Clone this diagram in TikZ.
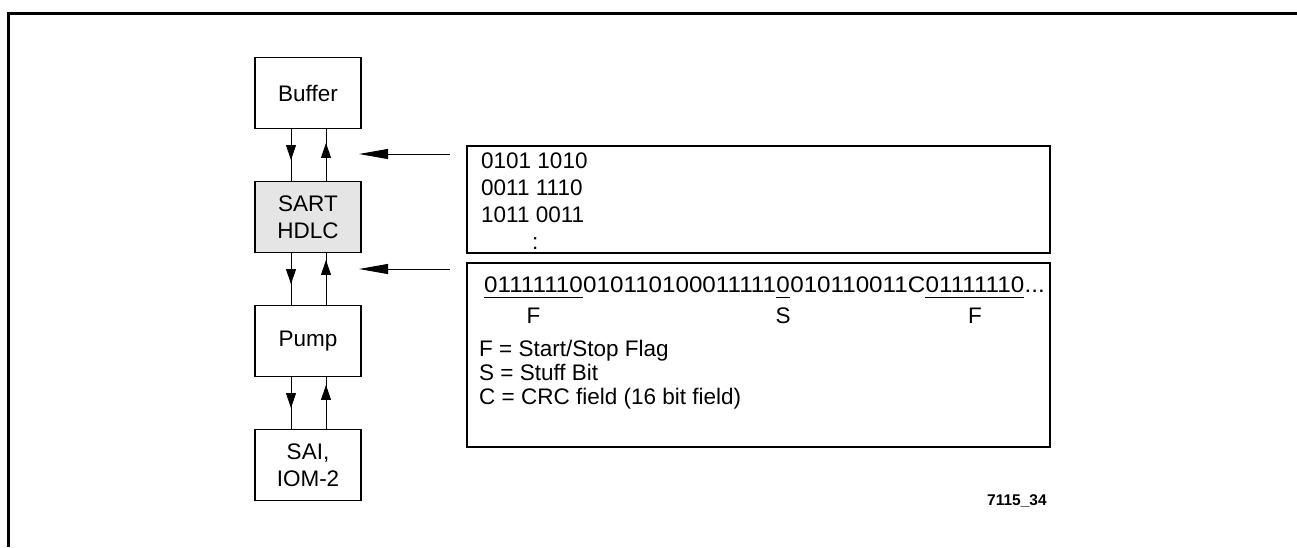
\documentclass[tikz,border=0pt]{standalone}
\usepackage{fontspec}
\usepackage{graphicx}
\setmainfont{Liberation Sans}
\usetikzlibrary{arrows.meta,decorations.markings}
\newcommand{\wideb}[1]{\scalebox{1.075}[1]{#1}}
\begin{document}
\begin{tikzpicture}[x=1pt,y=-1pt,
  every node/.style={font=\fontsize{22.5}{27}\selectfont},
  block/.style={draw=black,line width=1.1pt,minimum width=106pt,minimum height=71pt,inner sep=0pt,align=center},
  panel/.style={draw=black,line width=1.1pt,inner sep=0pt},
  bits/.style={inner sep=0pt,anchor=base west},
  conn/.style={line width=1pt},
  downmk/.style={postaction={decorate},decoration={markings,mark=at position #1 with {\arrow{Triangle[width=10pt,length=15pt]}}}},
  pointer/.style={line width=1pt,-{Triangle[width=10pt,length=29pt]}}
]
\useasboundingbox (0,0) rectangle (1297,547);
% frame
\draw[line width=3pt] (1297,13) -- (8,13) -- (8,547);

% blocks
\node[block] (buf) at (308,93) {Buffer};
\node[block,fill=black!10] (sart) at (308,217) {SART\\HDLC};
\node[block] (pump) at (308,341) {Pump};
\node[block] (sai) at (308,465) {SAI,\\IOM-2};

% vertical connectors
\draw[conn,downmk=31pt] ([xshift=-17pt]buf.south) -- ([xshift=-17pt]sart.north);
\draw[conn,downmk=38pt] ([xshift=18pt]sart.north) -- ([xshift=18pt]buf.south);
\draw[conn,downmk=31pt] ([xshift=-17pt]sart.south) -- ([xshift=-17pt]pump.north);
\draw[conn,downmk=45pt] ([xshift=18pt]pump.north) -- ([xshift=18pt]sart.south);
\draw[conn,downmk=31pt] ([xshift=-17pt]pump.south) -- ([xshift=-17pt]sai.north);
\draw[conn,downmk=44pt] ([xshift=18pt]sai.north) -- ([xshift=18pt]pump.south);

% panels
\node[panel,minimum width=583pt,minimum height=107pt] (p1) at (758.5,199.5) {};
\node[panel,minimum width=583pt,minimum height=184pt] (p2) at (758.5,355) {};

% pointer arrows
\coordinate (a1s) at (450,154);
\coordinate (a1e) at (359,154);
\coordinate (a2s) at (450,269);
\coordinate (a2e) at (359,269);
\draw[pointer] (a1s) -- (a1e);
\draw[pointer] (a2s) -- (a2e);

% panel 1 text (base = last line)
\node[anchor=base west,inner sep=0pt,align=left] (bytes) at (481,249)
  {0101 1010\\0011 1110\\1011 0011\\\hspace*{51pt}:};

% panel 2 bit string
\node[bits] (bA) at (484,292) {\wideb{01111110}};
\node[bits] (bB) at (bA.base east) {\wideb{010110100011111}};
\node[bits] (bC) at (bB.base east) {\wideb{0}};
\node[bits] (bD) at (bC.base east) {\wideb{010110011C}};
\node[bits] (bE) at (bD.base east) {\wideb{01111110}};
\node[bits] (bF) at (bE.base east) {\wideb{...}};
\draw[line width=1pt] ([yshift=-5pt]bA.base west) -- ([yshift=-5pt]bA.base east);
\draw[line width=1pt] ([yshift=-5pt]bC.base west) -- ([yshift=-5pt]bC.base east);
\draw[line width=1pt] ([yshift=-5pt]bE.base west) -- ([yshift=-5pt]bE.base east);
\node[anchor=base,inner sep=0pt] (fA) at ([yshift=-31pt]bA.base) {F};
\node[anchor=base,inner sep=0pt] (fC) at ([yshift=-31pt]bC.base) {S};
\node[anchor=base,inner sep=0pt] (fE) at ([yshift=-31pt]bE.base) {F};

\node[anchor=base west,inner sep=0pt,align=left,font=\fontsize{22.5}{24}\selectfont] (legend) at (479,404)
  {F = Start/Stop Flag\\S = Stuff Bit\\C = CRC field (16 bit field)};

\node[anchor=base west,inner sep=0pt,font=\bfseries\fontsize{15.5}{18}\selectfont] (id) at (987,505) {7115\_34};
\end{tikzpicture}
\end{document}
